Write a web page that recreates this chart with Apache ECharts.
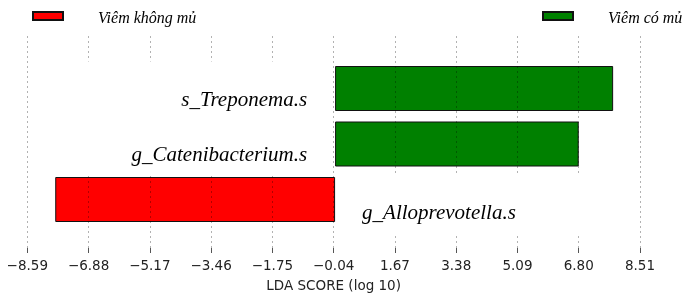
<!DOCTYPE html>
<html>
<head>
<meta charset="utf-8">
<script src="https://cdn.jsdelivr.net/npm/echarts@6/dist/echarts.min.js"></script>
<style>
  html, body { margin: 0; padding: 0; background: #fff; }
  #chart { width: 683px; height: 298px; }
</style>
</head>
<body>
<div id="chart"></div>
<script>
// 数据
var taxa = ['s_Treponema.s', 'g_Catenibacterium.s', 'g_Alloprevotella.s']
var ldaScores = [7.76, 6.80, -7.81]
var classNames = ['Viêm không mủ', 'Viêm có mủ']
var classColors = ['#ff0000', '#008000']
var tickValues = [-8.59, -6.88, -5.17, -3.46, -1.75, -0.04, 1.67, 3.38, 5.09, 6.80, 8.51]

var serif = 'Liberation Serif'

// 每个类别一组柱子，另一组留空
function classData(idx) {
  return ldaScores.map(function (v) {
    var cls = v < 0 ? 0 : 1
    return cls === idx ? v : '-'
  })
}

// 透明柱子只负责白底标签（rich 文本，白底盖住网格线）
var labelData = ldaScores.map(function (v) {
  if (v >= 0) {
    return { value: v, label: { position: 'left', distance: 4, offset: [0, 2], formatter: '{l|{b}}' } }
  }
  return { value: v, label: { position: 'right', distance: 4, offset: [0, 5], formatter: '{r|{b}}' } }
})

var labelFont = {
  fontFamily: serif, fontStyle: 'italic', fontSize: 21, lineHeight: 23,
  color: '#000', backgroundColor: '#fff'
}

var chart = echarts.init(document.getElementById('chart'))
var barStyle = { borderColor: '#111', borderWidth: 1 }
var legendText = {
  rich: {
    t: { fontFamily: serif, fontStyle: 'italic', fontSize: 16, lineHeight: 18, color: '#000', padding: [6, 0, 0, 30] }
  }
}

var option = {
  animation: false,
  backgroundColor: '#fff',
  legend: [
    { data: [classNames[0]], left: 32, top: 5, padding: 0, icon: 'rect', itemWidth: 30, itemHeight: 8, formatter: '{t|{name}}', textStyle: legendText },
    { data: [classNames[1]], left: 542, top: 5, padding: 0, icon: 'rect', itemWidth: 30, itemHeight: 8, formatter: '{t|{name}}', textStyle: legendText }
  ],
  grid: [
    { left: 27.3, width: 612.7, top: 36, bottom: 45 },
    { left: 27.3, width: 612.7, top: 60.75, height: 166.5 }
  ],
  xAxis: [
    {
      gridIndex: 0, type: 'value', min: -8.59, max: 8.51, z: 3,
      name: 'LDA SCORE (log 10)', nameLocation: 'middle', nameGap: 31,
      nameTextStyle: { fontFamily: 'DejaVu Sans', fontSize: 13.5, color: '#222' },
      axisLine: { show: false },
      axisTick: { show: true, length: 5, customValues: tickValues, lineStyle: { color: '#555' } },
      axisLabel: {
        customValues: tickValues, margin: 11,
        fontFamily: 'DejaVu Sans', fontSize: 13.5, color: '#222',
        formatter: function (v) { return v.toFixed(2).replace('-', '\u2212') }
      },
      splitLine: { show: true, lineStyle: { color: 'rgba(0,0,0,0.3)', type: [2, 3], width: 1 } }
    },
    {
      gridIndex: 1, type: 'value', min: -8.59, max: 8.51, show: false
    }
  ],
  yAxis: [
    { gridIndex: 0, type: 'value', show: false },
    { gridIndex: 1, type: 'category', data: taxa, inverse: true, show: false }
  ],
  series: [
    {
      name: classNames[0], type: 'bar', xAxisIndex: 1, yAxisIndex: 1,
      data: classData(0), barWidth: 45, barGap: '-100%', z: 2,
      itemStyle: Object.assign({ color: classColors[0] }, barStyle)
    },
    {
      name: classNames[1], type: 'bar', xAxisIndex: 1, yAxisIndex: 1,
      data: classData(1), barWidth: 45, barGap: '-100%', z: 2,
      itemStyle: Object.assign({ color: classColors[1] }, barStyle)
    },
    {
      name: 'labels', type: 'bar', xAxisIndex: 1, yAxisIndex: 1,
      data: labelData, barWidth: 45, barGap: '-100%', z: 5, silent: true,
      itemStyle: { color: 'rgba(0,0,0,0)' },
      label: {
        show: true,
        rich: {
          l: Object.assign({ width: 276, align: 'right', padding: [28, 24, 9, 0] }, labelFont),
          r: Object.assign({ width: 270, align: 'left', padding: [28, 0, 10, 23] }, labelFont)
        }
      }
    }
  ]
}

chart.setOption(option)

window.addEventListener('resize', function () {
  chart.resize()
})
</script>
</body>
</html>
